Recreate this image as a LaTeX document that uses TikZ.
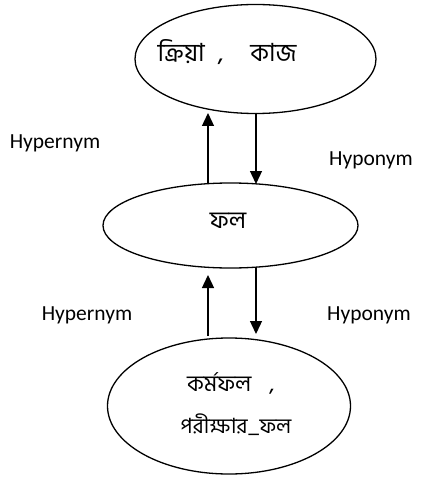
\documentclass[tikz,border=0pt]{standalone}
\usepackage{fontspec}
\setmainfont{Carlito}
\newfontfamily\bn[Script=Bengali]{Hind Siliguri}
\usetikzlibrary{shapes.geometric,arrows.meta}
\begin{document}
\begin{tikzpicture}[x=1pt,y=-1pt,
  ell/.style={draw,line width=1.3pt,ellipse,inner sep=0pt},
  lbl/.style={font=\fontsize{21.5}{26}\selectfont,inner sep=0pt},
  bt/.style={font=\bn\fontsize{21}{43}\selectfont,inner sep=0pt,align=center},
  arr/.style={line width=1.3pt,-{Triangle[length=13pt,width=12pt]}}]
\useasboundingbox (0,0) rectangle (428,481);
\node[ell,minimum width=241pt,minimum height=109pt] (top) at (255.5,59) {};
\node[bt,font=\bn\fontsize{25}{30}\selectfont] (toptext) at (227,52) {ক্রিয়া\hspace{13pt},\hspace{27pt}কাজ};
\node[ell,minimum width=255pt,minimum height=85pt] (mid) at (230.5,225.5) {};
\node[bt,font=\bn\fontsize{24}{30}\selectfont] (midtext) at (228,221) {ফল};
\node[ell,minimum width=243pt,minimum height=136pt] (bot) at (229,406) {};
\node[bt,anchor=west,font=\bn\fontsize{22.5}{30}\selectfont] (bottext1) at (187,383) {কর্মফল\hspace{18pt},};
\node[bt] (bottext2) at (236,425) {পরীক্ষার\_ফল};
\coordinate (a1s) at (208,184);
\coordinate (a1e) at (208,113);
\coordinate (a2s) at (256,113);
\coordinate (a2e) at (256,184);
\draw[arr] (a1s) -- (a1e);
\draw[arr] (a2s) -- (a2e);
\coordinate (b1s) at (208,336);
\coordinate (b1e) at (208,275);
\coordinate (b2s) at (256,268);
\coordinate (b2e) at (256,334);
\draw[arr] (b1s) -- (b1e);
\draw[arr] (b2s) -- (b2e);
\node[lbl] (h1) at (55,143) {Hypernym};
\node[lbl] (h2) at (371,160) {Hyponym};
\node[lbl] (h3) at (87,315) {Hypernym};
\node[lbl] (h4) at (369,315) {Hyponym};
\end{tikzpicture}
\end{document}
